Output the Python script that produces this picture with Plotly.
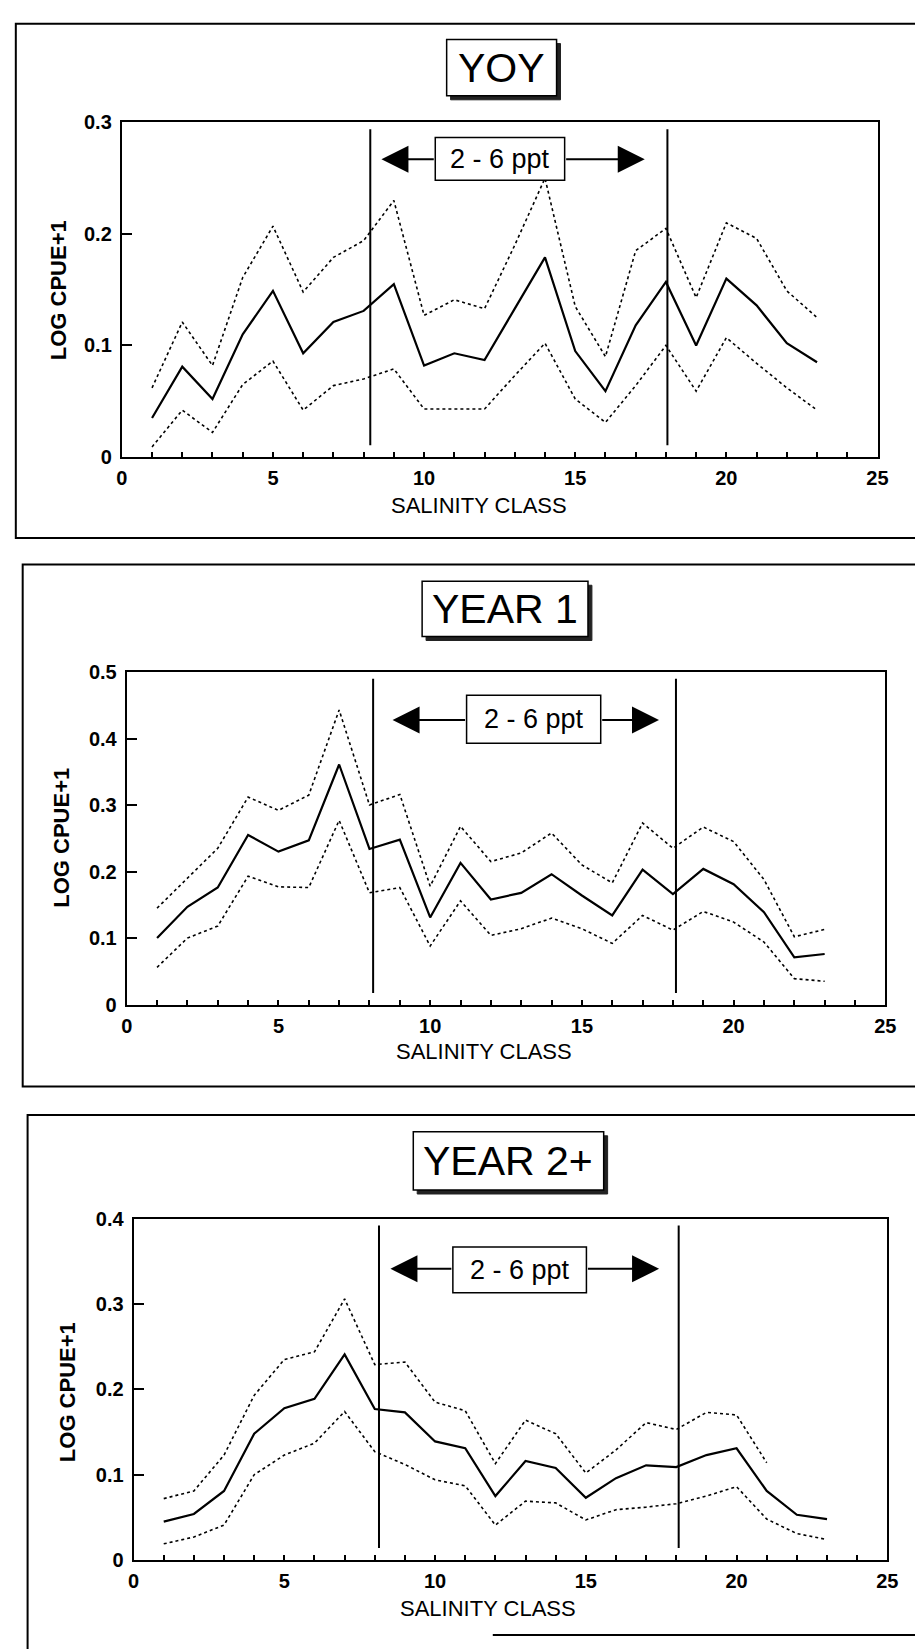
import plotly.graph_objects as go

# ---------------- data ----------------
SALINITY_CLASS = list(range(1, 24))

YOY_MEAN = [0.035, 0.081, 0.052, 0.110, 0.149, 0.093, 0.121, 0.131, 0.155, 0.082, 0.093, 0.087,
            0.133, 0.179, 0.095, 0.059, 0.118, 0.157, 0.100, 0.160, 0.136, 0.102, 0.085]
YOY_UPPER = [0.062, 0.121, 0.082, 0.161, 0.207, 0.148, 0.179, 0.194, 0.230, 0.127, 0.141, 0.133,
             0.190, 0.250, 0.135, 0.090, 0.185, 0.205, 0.143, 0.210, 0.196, 0.149, 0.125]
YOY_LOWER = [0.009, 0.042, 0.022, 0.065, 0.086, 0.042, 0.064, 0.070, 0.079, 0.043, 0.043, 0.043,
             0.073, 0.102, 0.052, 0.031, 0.064, 0.100, 0.059, 0.107, 0.084, 0.062, 0.042]

Y1_MEAN = [0.100, 0.147, 0.176, 0.255, 0.230, 0.247, 0.361, 0.234, 0.248, 0.131, 0.213, 0.158,
           0.168, 0.196, 0.164, 0.134, 0.203, 0.166, 0.204, 0.181, 0.139, 0.071, 0.076]
Y1_UPPER = [0.145, 0.190, 0.235, 0.312, 0.292, 0.315, 0.443, 0.300, 0.316, 0.178, 0.268, 0.215,
            0.228, 0.258, 0.210, 0.183, 0.273, 0.235, 0.267, 0.245, 0.188, 0.102, 0.113]
Y1_LOWER = [0.056, 0.100, 0.118, 0.193, 0.177, 0.176, 0.277, 0.168, 0.176, 0.088, 0.156, 0.104,
            0.114, 0.130, 0.114, 0.092, 0.134, 0.112, 0.140, 0.124, 0.094, 0.039, 0.035]

Y2_MEAN = [0.045, 0.054, 0.081, 0.148, 0.178, 0.189, 0.241, 0.177, 0.173, 0.139, 0.131, 0.075,
           0.116, 0.108, 0.073, 0.096, 0.111, 0.109, 0.123, 0.131, 0.081, 0.053, 0.048]
Y2_UPPER = [0.072, 0.081, 0.123, 0.193, 0.235, 0.244, 0.306, 0.229, 0.232, 0.185, 0.175, 0.113,
            0.164, 0.148, 0.102, 0.129, 0.161, 0.153, 0.173, 0.170, 0.114, None, None]
Y2_LOWER = [0.019, 0.027, 0.041, 0.100, 0.123, 0.137, 0.174, 0.127, 0.112, 0.094, 0.087, 0.041,
            0.069, 0.067, 0.047, 0.059, 0.062, 0.066, 0.075, 0.086, 0.048, 0.031, 0.024]

PANEL_TITLES = ["YOY", "YEAR 1", "YEAR 2+"]
Y_TICKS = [[0, 0.1, 0.2, 0.3], [0, 0.1, 0.2, 0.3, 0.4, 0.5], [0, 0.1, 0.2, 0.3, 0.4]]
X_LABELED_TICKS = [0, 5, 10, 15, 20, 25]
RANGE_LABEL = "2 - 6 ppt"
X_TITLE = "SALINITY CLASS"
Y_TITLE = "LOG CPUE+1"

# ---------------- layout geometry (pixels) ----------------
W, H = 915, 1649
FONT = "Liberation Sans, Arial, sans-serif"


def fx(x):
    return x / W


def fy(y):
    return 1 - y / H


GEOM = [
    dict(plot=(118, 888, 113, 452), frame=(10, 940, 13, 534), tbox=(449, 561, 29, 86),
         vlines=(8.22, 18.05), lbox=(10.37, 14.65, 0.827, 0.955), arrow=(8.59, 17.3, 0.89),
         xt=(482, 501), yt=(53, 283)),
    dict(plot=(123, 896, 670, 1007), frame=(17, 940, 561, 1090), tbox=(424, 593, 578, 634),
         vlines=(8.12, 18.1), lbox=(11.2, 15.62, 0.786, 0.93), arrow=(8.76, 17.54, 0.856),
         xt=(487, 1055), yt=(57, 838)),
    dict(plot=(130, 898, 1224, 1570), frame=(22, 940, 1119, 1700), tbox=(415, 609, 1136, 1195),
         vlines=(8.14, 18.08), lbox=(10.59, 15.02, 0.783, 0.917), arrow=(8.52, 17.43, 0.853),
         xt=(491, 1619), yt=(62, 1400)),
]

SERIES = [(YOY_MEAN, YOY_UPPER, YOY_LOWER), (Y1_MEAN, Y1_UPPER, Y1_LOWER), (Y2_MEAN, Y2_UPPER, Y2_LOWER)]

fig = go.Figure()
shapes = []
annotations = []

for i, (g, (mean, upper, lower)) in enumerate(zip(GEOM, SERIES)):
    sfx = "" if i == 0 else str(i + 1)
    xa, ya = "x" + sfx, "y" + sfx
    for vals, dash, width in ((upper, "dot", 1.6), (lower, "dot", 1.6), (mean, "solid", 2.2)):
        fig.add_trace(go.Scatter(x=SALINITY_CLASS, y=vals, mode="lines", xaxis=xa, yaxis=ya,
                                 line=dict(color="black", width=width, dash=dash),
                                 showlegend=False, hoverinfo="skip", connectgaps=False))

    x0, x1, y0, y1 = g["plot"]
    yticks = Y_TICKS[i]
    fig.layout["xaxis" + sfx] = dict(
        domain=[fx(x0), fx(x1)], range=[0, 25], anchor=ya,
        tickmode="array", tickvals=list(range(0, 26)),
        ticktext=[str(v) if v in X_LABELED_TICKS else "" for v in range(0, 26)],
        ticks="inside", ticklen=5, tickwidth=1.5, tickcolor="black",
        showline=True, linecolor="black", linewidth=2, mirror=True,
        showgrid=False, zeroline=False, ticklabelstandoff=2,
        tickfont=dict(family=FONT, size=20, color="black", weight="bold"))
    fig.layout["yaxis" + sfx] = dict(
        domain=[fy(y1), fy(y0)], range=[0, yticks[-1]], anchor=xa,
        tickmode="array", tickvals=yticks,
        ticktext=["0" if v == 0 else f"{v:.1f}" for v in yticks],
        ticks="inside", ticklen=10, tickwidth=2, tickcolor="black",
        showline=True, linecolor="black", linewidth=2, mirror=True,
        showgrid=False, zeroline=False, ticklabelstandoff=4,
        tickfont=dict(family=FONT, size=20, color="black", weight="bold"))

    # outer panel frame
    fx0, fx1, fy0, fy1 = g["frame"]
    shapes.append(dict(type="rect", xref="paper", yref="paper", x0=fx(fx0), x1=fx(fx1),
                       y0=fy(fy1), y1=fy(fy0), line=dict(color="black", width=2)))

    # title box with shadow
    tx0, tx1, ty0, ty1 = g["tbox"]
    shapes.append(dict(type="rect", xref="paper", yref="paper", x0=fx(tx0 + 4), x1=fx(tx1 + 4),
                       y0=fy(ty1 + 4), y1=fy(ty0 + 4), line=dict(color="#222", width=1),
                       fillcolor="#222"))
    shapes.append(dict(type="rect", xref="paper", yref="paper", x0=fx(tx0), x1=fx(tx1),
                       y0=fy(ty1), y1=fy(ty0), line=dict(color="black", width=1.5),
                       fillcolor="white"))
    annotations.append(dict(text=PANEL_TITLES[i], xref="paper", yref="paper",
                            x=fx((tx0 + tx1) / 2), y=fy((ty0 + ty1) / 2), showarrow=False,
                            xanchor="center", yanchor="middle",
                            font=dict(family=FONT, size=41, color="black")))

    # vertical boundary lines
    for xv in g["vlines"]:
        shapes.append(dict(type="line", xref=xa, yref=ya + " domain", x0=xv, x1=xv,
                           y0=0.035, y1=0.98, line=dict(color="black", width=2)))

    # "2 - 6 ppt" label with arrows
    bx0, bx1, by0, by1 = g["lbox"]
    shapes.append(dict(type="rect", xref=xa, yref=ya + " domain", x0=bx0, x1=bx1, y0=by0, y1=by1,
                       line=dict(color="black", width=1.5), fillcolor="white", layer="above"))
    ax_l, ax_r, ay = g["arrow"]
    annotations.append(dict(text=RANGE_LABEL, xref=xa, yref=ya + " domain",
                            x=(bx0 + bx1) / 2, y=(by0 + by1) / 2, showarrow=False,
                            xanchor="center", yanchor="middle",
                            font=dict(family=FONT, size=27, color="black")))
    ymax = yticks[-1]
    for tip, tail in ((ax_l, bx0), (ax_r, bx1)):
        annotations.append(dict(text="", xref=xa, yref=ya, x=tip, y=ay * ymax,
                                axref=xa, ayref=ya, ax=tail, ay=ay * ymax,
                                showarrow=True, arrowhead=2, arrowsize=2.7, arrowwidth=2,
                                arrowcolor="black", standoff=0))

    # axis titles
    annotations.append(dict(text=X_TITLE, xref="paper", yref="paper",
                            x=fx(g["xt"][0]), y=fy(g["xt"][1]), showarrow=False,
                            xanchor="center", yanchor="middle",
                            font=dict(family=FONT, size=22, color="black")))
    annotations.append(dict(text=Y_TITLE, xref="paper", yref="paper",
                            x=fx(g["yt"][0]), y=fy(g["yt"][1]), showarrow=False,
                            xanchor="center", yanchor="middle", textangle=-90,
                            font=dict(family=FONT, size=22, color="black", weight="bold")))

# stray bottom frame line visible at the lower edge
shapes.append(dict(type="line", xref="paper", yref="paper", x0=fx(496), x1=fx(930),
                   y0=fy(1646), y1=fy(1646), line=dict(color="black", width=2)))

fig.update_layout(width=W, height=H, autosize=False,
                  margin=dict(l=0, r=0, t=0, b=0),
                  paper_bgcolor="white", plot_bgcolor="white",
                  shapes=shapes, annotations=annotations, showlegend=False)

fig.write_html("out.html")
